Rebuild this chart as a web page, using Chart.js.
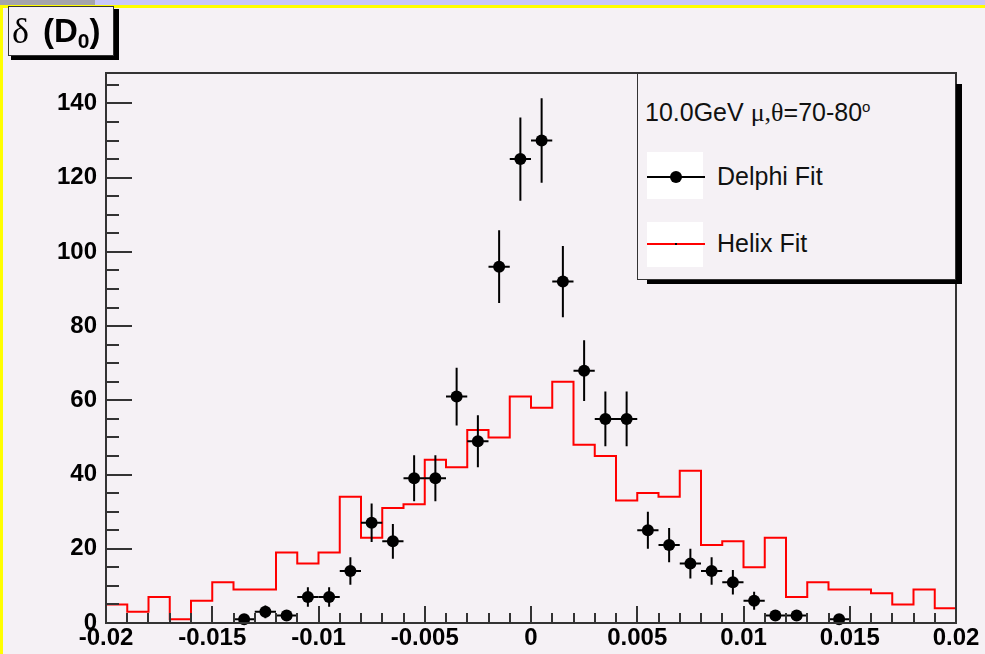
<!DOCTYPE html>
<html>
<head>
<meta charset="utf-8">
<script src="https://cdn.jsdelivr.net/npm/chart.js@4.4.1/dist/chart.umd.min.js"></script>
<style>
  html, body { margin: 0; padding: 0; }
  body { width: 985px; height: 654px; background: #f5f1f5; position: relative; overflow: hidden;
         font-family: "Liberation Sans", Arial, sans-serif; }
  #c { position: absolute; left: 0; top: 0; }
  .abs { position: absolute; }
  #topbar { left: 0; top: 0; width: 985px; height: 5px; background: #c8c8fa; }
  #topgrey { left: 0; top: 0; width: 95px; height: 5px; background: #a4a4ac; }
  #topyellow { left: 0; top: 5px; width: 985px; height: 3px; background: #ffff00; }
  #leftyellow { left: 0; top: 5px; width: 3px; height: 649px; background: #ffff00; }
  #titleShadow { left: 11px; top: 9px; width: 108px; height: 51px; background: #000; }
  #titleBox { left: 8px; top: 6px; width: 106px; height: 50px; background: #f5f1f5; border: 1px solid #333;
              box-sizing: border-box; white-space: nowrap; }
  #titleBox .d { position: absolute; left: 3px; top: 4px; font-family: "Liberation Serif", "DejaVu Serif", serif; font-size: 36px; line-height: 40px; }
  #titleBox .p { position: absolute; left: 34px; top: 4px; font-weight: bold; font-size: 33px; line-height: 40px; }
  #titleBox sub { font-size: 21px; vertical-align: -6px; }
  #legShadow { left: 647px; top: 84px; width: 315px; height: 200px; background: #000; }
  #legBox { left: 637px; top: 73px; width: 319px; height: 207px; background: #f5f1f5; border: 1.5px solid #333; box-sizing: border-box; }
  #legHead { left: 645px; top: 92px; font-size: 25px; line-height: 30px; color: #111; white-space: nowrap; }
  #legHead .g { font-family: "Liberation Serif", "DejaVu Serif", serif; font-size: 26px; }
  #legHead sup { font-size: 15px; vertical-align: 9px; }
  .sample { left: 647px; width: 56px; background: #ffffff; }
  #s1 { top: 152px; height: 47px; }
  #s2 { top: 222px; height: 45px; }
  .sline { height: 2px; left: 647px; width: 58px; }
  #l1 { top: 176px; background: #000; }
  #l2 { top: 243px; background: #ff0000; }
  #dot1 { left: 670px; top: 171px; width: 12px; height: 12px; border-radius: 50%; background: #000; }
  #dot2 { left: 675px; top: 243px; width: 2px; height: 2px; background: #000; }
  .ltxt { left: 717px; font-size: 25px; line-height: 28px; color: #111; white-space: nowrap; }
  #t1 { top: 162px; }
  #t2 { top: 229px; }
</style>
</head>
<body>
<div class="abs" id="topbar"></div>
<div class="abs" id="topgrey"></div>
<div class="abs" id="topyellow"></div>
<div class="abs" id="leftyellow"></div>
<canvas id="c" width="985" height="654"></canvas>
<div class="abs" id="titleShadow"></div>
<div class="abs" id="titleBox"><span class="d">δ</span><span class="p">(D<sub>0</sub>)</span></div>
<div class="abs" id="legShadow"></div>
<div class="abs" id="legBox"></div>
<div class="abs" id="legHead">10.0GeV <span class="g">μ,θ</span>=70-80<sup>o</sup></div>
<div class="abs sample" id="s1"></div>
<div class="abs sample" id="s2"></div>
<div class="abs sline" id="l1"></div>
<div class="abs" id="dot1"></div>
<div class="abs sline" id="l2"></div>
<div class="abs" id="dot2"></div>
<div class="abs ltxt" id="t1">Delphi Fit</div>
<div class="abs ltxt" id="t2">Helix Fit</div>
<script>
// ---- data ----
const helixBinLow = -0.02;
const helixBinWidth = 0.001;
const helixCounts = [5, 3, 7, 1, 6, 11, 9, 9, 19, 16,
                     19, 34, 23, 31, 32, 44, 42, 52, 50, 61,
                     58, 65, 48, 45, 33, 35, 34, 41, 21, 22,
                     15, 23, 7, 11, 9, 9, 8, 5, 9, 4];

const delphiX = [-0.0135, -0.0125, -0.0115, -0.0105, -0.0095, -0.0085, -0.0075, -0.0065,
                 -0.0055, -0.0045, -0.0035, -0.0025, -0.0015, -0.0005, 0.0005, 0.0015,
                 0.0025, 0.0035, 0.0045, 0.0055, 0.0065, 0.0075, 0.0085, 0.0095,
                 0.0105, 0.0115, 0.0125, 0.0145];
const delphiY = [1, 3, 2, 7, 7, 14, 27, 22,
                 39, 39, 61, 49, 96, 125, 130, 92,
                 68, 55, 55, 25, 21, 16, 14, 11,
                 6, 2, 2, 1];
const delphiErrY = [1, 1.7, 1.4, 2.6, 2.6, 3.7, 5.2, 4.7,
                    6.2, 6.2, 7.8, 7.0, 9.8, 11.2, 11.4, 9.6,
                    8.2, 7.4, 7.4, 5.0, 4.6, 4.0, 3.7, 3.3,
                    2.4, 1.4, 1.4, 1.0];
const delphiErrX = 0.0005;

const xMin = -0.02, xMax = 0.02, xLabelStep = 0.005, xMinorStep = 0.001;
const yMin = 0, yMax = 148.2, yLabelStep = 20, yMinorStep = 5;

// ---- build datasets ----
const helixPoints = helixCounts.map((v, i) => ({ x: helixBinLow + i * helixBinWidth, y: v }));
helixPoints.push({ x: helixBinLow + helixCounts.length * helixBinWidth, y: helixCounts[helixCounts.length - 1] });
const delphiPoints = delphiX.map((x, i) => ({ x: x, y: delphiY[i], ex: delphiErrX, ey: delphiErrY[i] }));

const fmtX = v => {
  const r = Math.round(v * 1000) / 1000;
  return r === 0 ? '0' : String(r);
};

const errorBars = {
  id: 'errorBars',
  afterDatasetsDraw(chart) {
    const { ctx, scales: { x, y } } = chart;
    ctx.save();
    ctx.strokeStyle = '#000';
    ctx.lineWidth = 2;
    delphiPoints.forEach(p => {
      const px = x.getPixelForValue(p.x), py = y.getPixelForValue(p.y);
      ctx.beginPath();
      ctx.moveTo(px, y.getPixelForValue(p.y - p.ey));
      ctx.lineTo(px, y.getPixelForValue(p.y + p.ey));
      ctx.moveTo(x.getPixelForValue(p.x - p.ex), py);
      ctx.lineTo(x.getPixelForValue(p.x + p.ex), py);
      ctx.stroke();
    });
    ctx.restore();
  }
};

const axisDecor = {
  id: 'axisDecor',
  afterDraw(chart) {
    const { ctx, chartArea: a, scales: { x, y } } = chart;
    ctx.save();
    ctx.strokeStyle = '#333';
    ctx.lineWidth = 2;
    ctx.strokeRect(a.left, a.top, a.right - a.left, a.bottom - a.top);
    ctx.beginPath();
    const nx = Math.round((xMax - xMin) / xMinorStep);
    for (let i = 0; i <= nx; i++) {
      const px = Math.round(x.getPixelForValue(xMin + i * xMinorStep));
      const len = (i % Math.round(xLabelStep / xMinorStep) === 0) ? 17 : 10;
      ctx.moveTo(px, a.bottom);
      ctx.lineTo(px, a.bottom - len);
    }
    const ny = Math.floor((yMax - yMin) / yMinorStep);
    for (let i = 0; i <= ny; i++) {
      const py = Math.round(y.getPixelForValue(yMin + i * yMinorStep));
      const len = (i % Math.round(yLabelStep / yMinorStep) === 0) ? 26 : 13;
      ctx.moveTo(a.left, py);
      ctx.lineTo(a.left + len, py);
    }
    ctx.stroke();
    ctx.restore();
  }
};

const tickFont = { family: '"Liberation Sans", Arial, sans-serif', size: 24, weight: 'bold' };

new Chart(document.getElementById('c'), {
  type: 'scatter',
  data: {
    datasets: [
      {
        label: 'Delphi Fit',
        data: delphiPoints,
        order: 0,
        showLine: false,
        pointRadius: 6,
        pointBackgroundColor: '#000',
        pointBorderColor: '#000',
        pointBorderWidth: 0,
        clip: false
      },
      {
        label: 'Helix Fit',
        data: helixPoints,
        order: 1,
        showLine: true,
        stepped: 'before',
        borderColor: '#ff0000',
        borderWidth: 2,
        pointRadius: 0,
        fill: false
      }
    ]
  },
  options: {
    responsive: false,
    animation: false,
    layout: { padding: { left: 0, right: 29, top: 73, bottom: 0 } },
    plugins: { legend: { display: false }, tooltip: { enabled: false }, title: { display: false } },
    scales: {
      x: {
        type: 'linear', min: xMin, max: xMax,
        afterFit: s => { s.height = 31; },
        grid: { display: false, drawTicks: false },
        border: { display: false },
        ticks: { stepSize: xLabelStep, autoSkip: false, maxRotation: 0, padding: 1,
                 color: '#000', font: tickFont, callback: v => fmtX(v), includeBounds: false }
      },
      y: {
        type: 'linear', min: yMin, max: yMax,
        afterFit: s => { s.width = 106; },
        grid: { display: false, drawTicks: false },
        border: { display: false },
        ticks: { stepSize: yLabelStep, autoSkip: false, padding: 9, includeBounds: false,
                 color: '#000', font: tickFont,
                 callback: v => (Math.abs(v % yLabelStep) < 1e-9 ? String(v) : '') }
      }
    }
  },
  plugins: [errorBars, axisDecor]
});
</script>
</body>
</html>
